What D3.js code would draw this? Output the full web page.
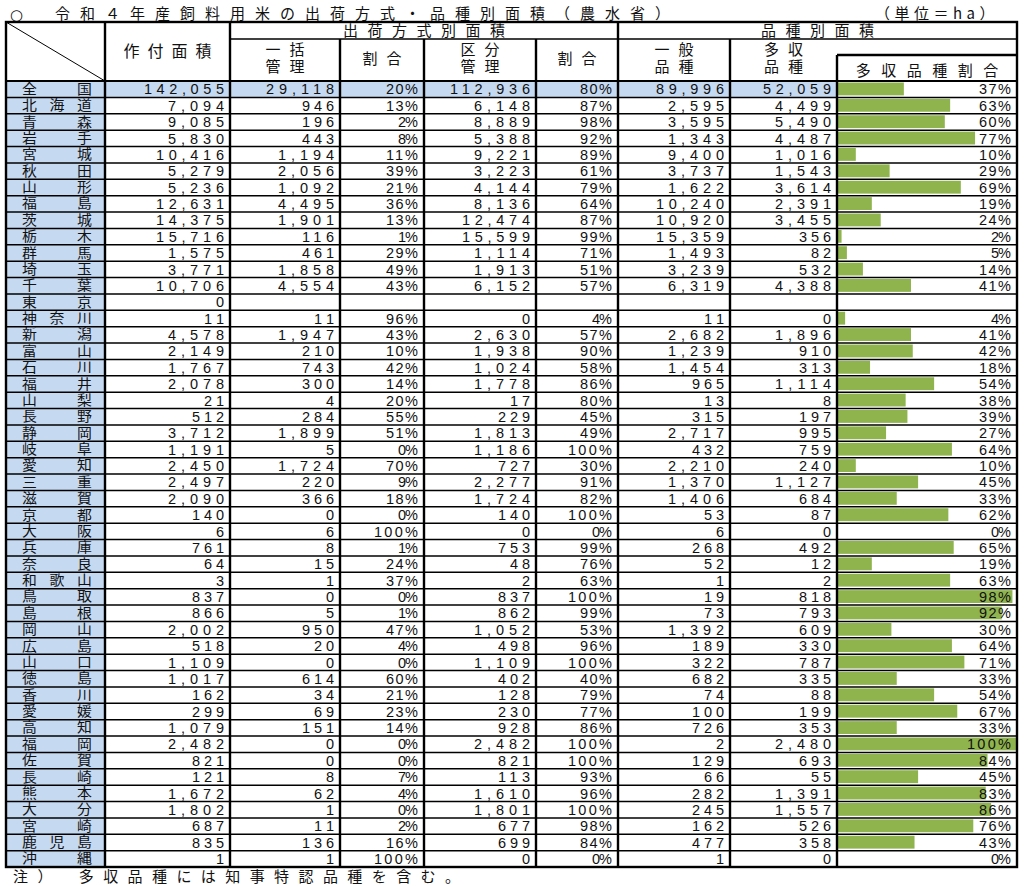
<!DOCTYPE html>
<html><head><meta charset="utf-8">
<script src="https://cdn.jsdelivr.net/npm/d3@7"></script>
<style>
body{margin:0;background:#fff;}
text{font-family:"Liberation Sans","Noto Sans CJK JP",sans-serif;fill:#111;}
text.cjk{font-family:"Noto Sans CJK JP",sans-serif;}
text.mark{font-family:"DejaVu Sans",sans-serif;}
</style></head>
<body>
<svg id="chart" width="1024" height="886"></svg>
<script>
const prefectures = ["全国","北海道","青森","岩手","宮城","秋田","山形","福島","茨城","栃木","群馬","埼玉","千葉","東京","神奈川","新潟","富山","石川","福井","山梨","長野","静岡","岐阜","愛知","三重","滋賀","京都","大阪","兵庫","奈良","和歌山","鳥取","島根","岡山","広島","山口","徳島","香川","愛媛","高知","福岡","佐賀","長崎","熊本","大分","宮崎","鹿児島","沖縄"];
const plantedArea = [142055,7094,9085,5830,10416,5279,5236,12631,14375,15716,1575,3771,10706,0,11,4578,2149,1767,2078,21,512,3712,1191,2450,2497,2090,140,6,761,64,3,837,866,2002,518,1109,1017,162,299,1079,2482,821,121,1672,1802,687,835,1];
const bulkMgmt = [29118,946,196,443,1194,2056,1092,4495,1901,116,461,1858,4554,null,11,1947,210,743,300,4,284,1899,5,1724,220,366,0,6,8,15,1,0,5,950,20,0,614,34,69,151,0,0,8,62,1,11,136,1];
const bulkPct = [20,13,2,8,11,39,21,36,13,1,29,49,43,null,96,43,10,42,14,20,55,51,0,70,9,18,0,100,1,24,37,0,1,47,4,0,60,21,23,14,0,0,7,4,0,2,16,100];
const sepMgmt = [112936,6148,8889,5388,9221,3223,4144,8136,12474,15599,1114,1913,6152,null,0,2630,1938,1024,1778,17,229,1813,1186,727,2277,1724,140,0,753,48,2,837,862,1052,498,1109,402,128,230,928,2482,821,113,1610,1801,677,699,0];
const sepPct = [80,87,98,92,89,61,79,64,87,99,71,51,57,null,4,57,90,58,86,80,45,49,100,30,91,82,100,0,99,76,63,100,99,53,96,100,40,79,77,86,100,100,93,96,100,98,84,0];
const generalVar = [89996,2595,3595,1343,9400,3737,1622,10240,10920,15359,1493,3239,6319,null,11,2682,1239,1454,965,13,315,2717,432,2210,1370,1406,53,6,268,52,1,19,73,1392,189,322,682,74,100,726,2,129,66,282,245,162,477,1];
const highYieldVar = [52059,4499,5490,4487,1016,1543,3614,2391,3455,356,82,532,4388,null,0,1896,910,313,1114,8,197,995,759,240,1127,684,87,0,492,12,2,818,793,609,330,787,335,88,199,353,2480,693,55,1391,1557,526,358,0];
const highYieldPct = [37,63,60,77,10,29,69,19,24,2,5,14,41,null,4,41,42,18,54,38,39,27,64,10,45,33,62,0,65,19,63,98,92,30,64,71,33,54,67,33,100,84,45,83,86,76,43,0];

const titleMark = "○";
const titleText = "令和４年産飼料用米の出荷方式・品種別面積（農水省）";
const unitText = "（単位＝ha）";
const noteText = "注）　多収品種には知事特認品種を含む。";

const svg = d3.select("#chart");
const colX = [6,105,230,340,424,536,618,730,837,1017];
const tableTop = 22, h1Bottom = 39, subTop = 55, headBottom = 81;
const tableBottom = 867;
const SLOT = 12;
const fill = "#c5d9f1", barColor = "#8fb44e";

const y = d3.scaleBand().domain(d3.range(prefectures.length)).range([headBottom, tableBottom]);
const rh = y.bandwidth();
const x = d3.scaleLinear().domain([0,100]).range([colX[8]+1, colX[9]-1]);
const fmt = d3.format(",");

svg.append("rect").attr("x",colX[0]).attr("y",headBottom).attr("width",colX[1]-colX[0]).attr("height",tableBottom-headBottom).attr("fill",fill);
svg.append("rect").attr("x",colX[0]).attr("y",y(0)).attr("width",colX[8]-colX[0]).attr("height",rh).attr("fill",fill);

svg.append("g").selectAll("rect").data(highYieldPct.map((v,i)=>({v,i})).filter(d=>d.v!==null && d.v>0))
  .join("rect")
  .attr("x",x(0)).attr("y",d=>y(d.i)+1.5).attr("width",d=>x(d.v)-x(0)).attr("height",rh-3.5)
  .attr("fill",barColor);

function spaced(sel, str, xPos, yPos, anchor, size, slot){
  const t = sel.append("text").attr("x",xPos).attr("y",yPos).attr("text-anchor",anchor)
    .attr("font-size",size).text(str);
  if (str.length>1) t.attr("textLength", str.length*slot - (slot-size*0.56)).attr("lengthAdjust","spacing");
  return t;
}
function spacedJ(sel, str, xPos, yPos, anchor, size, slot){
  const t = sel.append("text").attr("x",xPos).attr("y",yPos).attr("text-anchor",anchor)
    .attr("font-size",size).text(str);
  if (str.length>1) t.attr("textLength", str.length*slot - (slot-size)).attr("lengthAdjust","spacing");
  return t;
}

const g = svg.append("g");
const numCols = [
  {vals: plantedArea, right: colX[2], pct:false},
  {vals: bulkMgmt, right: colX[3], pct:false},
  {vals: bulkPct, right: colX[4], pct:true},
  {vals: sepMgmt, right: colX[5], pct:false},
  {vals: sepPct, right: colX[6], pct:true},
  {vals: generalVar, right: colX[7], pct:false},
  {vals: highYieldVar, right: colX[8], pct:false},
  {vals: highYieldPct, right: colX[9], pct:true}
];
numCols.forEach(c=>{
  c.vals.forEach((v,i)=>{
    if (v===null) return;
    const s = c.pct ? v+"%" : fmt(v);
    spaced(g, s, c.right-6, y(i)+rh-3, "end", 14.5, SLOT);
  });
});

const LS = 13.2, SX = 1.13;
function lab(xp, yp, anchor, ch){
  g.append("text").attr("transform",`translate(${xp},${yp}) scale(${SX},1)`)
    .attr("text-anchor",anchor).attr("font-size",LS).text(ch);
}
prefectures.forEach((p,i)=>{
  const by = y(i)+rh-3.6;
  const chars = [...p];
  lab(22, by, "start", chars[0]);
  if (chars.length===3) lab(57, by, "middle", chars[1]);
  lab(92, by, "end", chars[chars.length-1]);
});

const hg = svg.append("g");
hg.append("text").attr("class","mark").attr("x",10).attr("y",19.5).attr("font-size",15).text(titleMark);
spacedJ(hg, titleText, 55, 19, "start", 15, 25).attr("class","cjk");
hg.append("text").attr("class","cjk").attr("x",875).attr("y",19).attr("font-size",15).attr("letter-spacing",4.5).text(unitText);
spacedJ(hg, "作付面積", (colX[1]+colX[2])/2, 57, "middle", 16, 24);
spacedJ(hg, "出荷方式別面積", (colX[2]+colX[6])/2, 36, "middle", 15, 24.5);
spacedJ(hg, "品種別面積", (colX[6]+colX[9])/2, 36, "middle", 15, 24.5);
const twoLine = [["一括","管理",2],["区分","管理",4],["一般","品種",6],["多収","品種",7]];
twoLine.forEach(([a,b,ci])=>{
  const cx=(colX[ci]+colX[ci+1])/2;
  spacedJ(hg, a, cx, 54.5, "middle", 15, 24);
  spacedJ(hg, b, cx, 71.5, "middle", 15, 24);
});
[3,5].forEach(ci=>spacedJ(hg,"割合",(colX[ci]+colX[ci+1])/2,64,"middle",15,24));
spacedJ(hg, "多収品種割合", (colX[8]+colX[9])/2, 76, "middle", 15, 25.5);
spacedJ(hg, noteText, 13, 882, "start", 15, 24).attr("class","cjk");

const lg = svg.append("g").attr("stroke","#000").attr("fill","none");
d3.range(1,prefectures.length).forEach(i=>{
  lg.append("line").attr("x1",colX[0]).attr("x2",colX[9]).attr("y1",y(i)).attr("y2",y(i)).attr("stroke-width",1.5);
});
lg.append("line").attr("x1",colX[0]).attr("x2",colX[9]).attr("y1",headBottom).attr("y2",headBottom).attr("stroke-width",2);
lg.append("line").attr("x1",colX[2]).attr("x2",colX[9]).attr("y1",h1Bottom).attr("y2",h1Bottom).attr("stroke-width",1.4);
lg.append("line").attr("x1",colX[8]).attr("x2",colX[9]).attr("y1",subTop).attr("y2",subTop).attr("stroke-width",2.4);
const vStart = {1:tableTop,2:tableTop,3:h1Bottom,4:h1Bottom,5:h1Bottom,6:tableTop,7:h1Bottom,8:subTop};
Object.entries(vStart).forEach(([ci,ys])=>{
  lg.append("line").attr("x1",colX[ci]).attr("x2",colX[ci]).attr("y1",ys).attr("y2",tableBottom).attr("stroke-width",2.4);
});
lg.append("line").attr("x1",colX[0]).attr("y1",tableTop).attr("x2",colX[1]).attr("y2",headBottom).attr("stroke-width",1);
lg.append("rect").attr("x",colX[0]).attr("y",tableTop).attr("width",colX[9]-colX[0]).attr("height",tableBottom-tableTop).attr("stroke-width",2.4);
</script>
</body></html>
